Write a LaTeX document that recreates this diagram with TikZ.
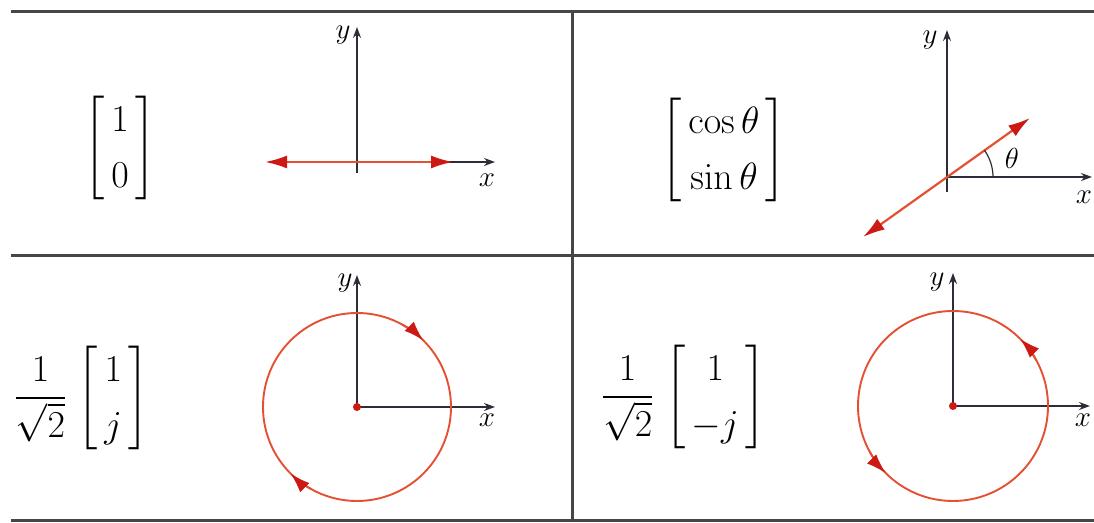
\RequirePackage{fix-cm}
\documentclass[tikz,border=0pt]{standalone}
\usepackage{amsmath}
\usetikzlibrary{arrows.meta}
\definecolor{tline}{RGB}{70,70,70}
\definecolor{vred}{RGB}{228,80,50}
\definecolor{hred}{RGB}{205,25,20}
\definecolor{axc}{RGB}{45,45,55}
\newcommand\colvec[1]{{\renewcommand\arraystretch{1.22}\left[\,\begin{matrix}#1\end{matrix}\,\right]}}
\begin{document}
\begin{tikzpicture}[x=0.5pt,y=0.5pt,
  frame/.style={line width=1.5pt,draw=tline},
  axis/.style={line width=0.8pt,draw=axc,-{Stealth[length=5.5pt,width=4pt]}},
  vec/.style={line width=1.1pt,draw=vred,{Latex[length=11pt,width=6.5pt,color=hred]}-{Latex[length=11pt,width=6.5pt,color=hred]}},
  orbit/.style={line width=0.95pt,draw=vred},
  tipc/.style={line width=0.95pt,draw=vred,-{Latex[length=10pt,width=6.5pt,color=hred]}},
  big/.style={font=\fontsize{19}{23}\selectfont, inner sep=0pt},
  lab/.style={font=\fontsize{14.5}{17}\selectfont, inner sep=0pt},
]
\useasboundingbox (0,0) rectangle (1094,523);
% table frame
\coordinate (tl) at (11,511); \coordinate (tr) at (1094,511);
\coordinate (ml) at (11,267); \coordinate (mr) at (1094,267);
\coordinate (bl) at (11,2);   \coordinate (br) at (1094,2);
\coordinate (vt) at (572,511); \coordinate (vb) at (572,2);
\draw[frame] (tl) -- (tr);
\draw[frame] (ml) -- (mr);
\draw[frame] (bl) -- (br);
\draw[frame] (vt) -- (vb);

% ---- top left
\coordinate (o1) at (357,361);
\coordinate (y1b) at (357,350); \coordinate (y1t) at (357,496);
\coordinate (x1b) at (346,361); \coordinate (x1t) at (495,361);
\draw[axis] (y1b) -- (y1t);
\draw[axis] (x1b) -- (x1t);
\coordinate (v1a) at (265,361); \coordinate (v1b) at (453,361);
\draw[vec] (v1a) -- (v1b);
\node[lab] (ly1) at (343,488) {$y$};
\node[lab] (lx1) at (487,343) {$x$};
\node[big] (m1) at (120,375) {$\colvec{1\\0}$};

% ---- top right
\coordinate (o2) at (947,346);
\coordinate (y2b) at (947,331); \coordinate (y2t) at (947,493);
\coordinate (x2t) at (1092,346);
\draw[axis] (y2b) -- (y2t);
\draw[axis] (o2) -- (x2t);
\coordinate (v2a) at (863,286); \coordinate (v2b) at (1030,405);
\draw[vec] (v2a) -- (v2b);
\draw[line width=0.6pt,draw=axc] ([shift={(0:23pt)}]o2) arc[start angle=0,end angle=35.4,radius=23pt];
\node[lab] (th) at (1012,365) {$\theta$};
\node[lab] (ly2) at (930,483) {$y$};
\node[lab] (lx2) at (1084,326) {$x$};
\node[big] (m2) at (724,373) {$\colvec{\cos\theta\\ \sin\theta}$};

% ---- bottom left
\coordinate (o3) at (357,116);
\coordinate (y3t) at (357,248); \coordinate (x3t) at (495,116);
\draw[axis] (o3) -- (y3t);
\draw[axis] (o3) -- (x3t);
\draw[orbit] (o3) circle[radius=47pt];
\draw[tipc] ([shift={(61:47pt)}]o3) arc[start angle=61,end angle=45,radius=47pt];
\draw[tipc] ([shift={(241:47pt)}]o3) arc[start angle=241,end angle=225,radius=47pt];
\fill[hred] (o3) circle[radius=2pt];
\node[lab] (ly3) at (345,240) {$y$};
\node[lab] (lx3) at (487,103) {$x$};
\node[big] (m3) at (81,125) {$\displaystyle\frac{1}{\sqrt{2}}\;\colvec{1\\ j}$};

% ---- bottom right
\coordinate (o4) at (953,117);
\coordinate (y4t) at (953,250); \coordinate (x4t) at (1090,117);
\draw[axis] (o4) -- (y4t);
\draw[axis] (o4) -- (x4t);
\draw[orbit] (o4) circle[radius=47.5pt];
\draw[tipc] ([shift={(29:47.5pt)}]o4) arc[start angle=29,end angle=45,radius=47.5pt];
\draw[tipc] ([shift={(209:47.5pt)}]o4) arc[start angle=209,end angle=225,radius=47.5pt];
\fill[hred] (o4) circle[radius=2pt];
\node[lab] (ly4) at (937,241) {$y$};
\node[lab] (lx4) at (1083,103) {$x$};
\node[big] (m4) at (683,126) {$\displaystyle\frac{1}{\sqrt{2}}\;\colvec{1\\ -j}$};
\end{tikzpicture}
\end{document}
